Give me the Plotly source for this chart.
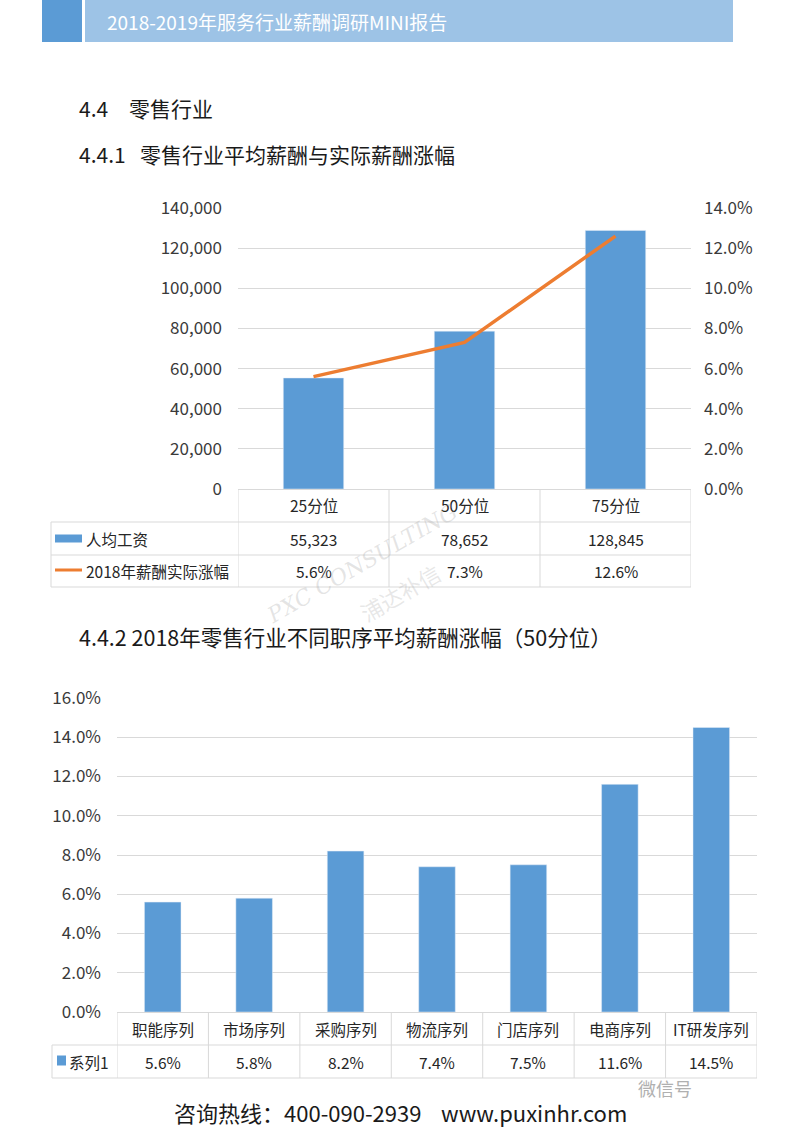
import plotly.graph_objects as go

# ---------------- data ----------------
header_title = "2018-2019年服务行业薪酬调研MINI报告"
pct_categories = ["25分位", "50分位", "75分位"]
avg_salary = [55323, 78652, 128845]
salary_rise = [0.056, 0.073, 0.126]
salary_name = "人均工资"
rise_name = "2018年薪酬实际涨幅"

seq_categories = ["职能序列", "市场序列", "采购序列", "物流序列", "门店序列", "电商序列", "IT研发序列"]
seq_rise = [0.056, 0.058, 0.082, 0.074, 0.075, 0.116, 0.145]
seq_name = "系列1"

# ---------------- styling helpers ----------------
W, H = 800, 1131
BLUE = "#5B9BD5"
ORANGE = "#ED7D31"
GRID = "#D9D9D9"
TXT = "#3a3a3a"
FONT = "Noto Sans CJK SC"


def px(x):
    return x / W


def py(y):
    return 1 - y / H


fig = go.Figure()

# chart 1 geometry (pixels)
c1_left, c1_right, c1_top, c1_bottom = 238, 691, 208, 489
c1_rows = [489, 522, 555, 587]
c1_legend_left = 51
# chart 2 geometry
c2_left, c2_right, c2_top, c2_bottom = 117, 757, 698, 1012
c2_rows = [1012, 1045, 1078]
c2_legend_left = 52

# ---------------- traces ----------------
fig.add_trace(go.Bar(x=list(range(len(pct_categories))), y=avg_salary, name=salary_name,
                     marker_color=BLUE, width=0.4, xaxis="x", yaxis="y", showlegend=False))
fig.add_trace(go.Scatter(x=list(range(len(pct_categories))), y=salary_rise, name=rise_name,
                         mode="lines", line=dict(color=ORANGE, width=3.5),
                         xaxis="x", yaxis="y2", showlegend=False))
fig.add_trace(go.Bar(x=list(range(len(seq_categories))), y=seq_rise, name=seq_name,
                     marker_color=BLUE, width=0.4, xaxis="x2", yaxis="y3", showlegend=False))

tickfont = dict(family=FONT, size=17, color=TXT)

fig.update_layout(
    width=W, height=H, margin=dict(l=0, r=0, t=0, b=0, pad=0, autoexpand=False),
    paper_bgcolor="white", plot_bgcolor="white", showlegend=False,
    font=dict(family=FONT, color=TXT),
    xaxis=dict(domain=[px(c1_left), px(c1_right)], range=[-0.5, len(pct_categories) - 0.5],
               showticklabels=False, showgrid=False, zeroline=False, automargin=False,
               showline=True, linecolor=GRID, linewidth=1, anchor="y", fixedrange=True),
    yaxis=dict(domain=[py(c1_bottom), py(c1_top)], range=[0, 140000], dtick=20000,
               tickformat=",", tickfont=tickfont, showgrid=True, gridcolor=GRID, gridwidth=1,
               zeroline=False, showline=False, ticks="", ticklabelstandoff=15, anchor="x",
               automargin=False),
    yaxis2=dict(overlaying="y", side="right", anchor="x", range=[0, 0.14], dtick=0.02,
                tickformat=".1%", tickfont=tickfont, showgrid=False, zeroline=False,
                showline=False, ticks="", ticklabelstandoff=12, automargin=False),
    xaxis2=dict(domain=[px(c2_left), px(c2_right)], range=[-0.5, len(seq_categories) - 0.5],
                showticklabels=False, showgrid=False, zeroline=False, automargin=False,
                showline=True, linecolor=GRID, linewidth=1, anchor="y3"),
    yaxis3=dict(domain=[py(c2_bottom), py(c2_top)], range=[0, 0.16], dtick=0.02,
                tickformat=".1%", tickfont=tickfont, showgrid=True, gridcolor=GRID, gridwidth=1,
                zeroline=False, showline=False, ticks="", ticklabelstandoff=15, anchor="x2",
                automargin=False),
)

shapes = []
annotations = []

# ---------------- header bar ----------------
shapes.append(dict(type="rect", xref="paper", yref="paper", x0=px(42), x1=px(82), y0=py(42), y1=py(0),
                   fillcolor="#5B9BD5", line=dict(width=0), layer="below"))
shapes.append(dict(type="rect", xref="paper", yref="paper", x0=px(85), x1=px(733), y0=py(42), y1=py(0),
                   fillcolor="#9DC3E6", line=dict(width=0), layer="below"))
annotations.append(dict(text=header_title, xref="paper", yref="paper", x=px(105), y=py(21),
                        xanchor="left", yanchor="middle", showarrow=False,
                        font=dict(family=FONT, size=19, color="white")))

# ---------------- headings ----------------
head_font = dict(family=FONT, size=21, color="#1a1a1a")
for txt, x, y, sz in [("4.4", 77, 108, 21), ("零售行业", 127, 108, 21), ("4.4.1", 77, 154, 21),
                      ("零售行业平均薪酬与实际薪酬涨幅", 138, 154, 21),
                      ("4.4.2 2018年零售行业不同职序平均薪酬涨幅（50分位）", 77, 636, 21.5)]:
    annotations.append(dict(text=txt, xref="paper", yref="paper", x=px(x), y=py(y),
                            xanchor="left", yanchor="middle", showarrow=False,
                            font=dict(head_font, size=sz)))

cell_font = dict(family=FONT, size=15.5, color="#262626")
line_style = dict(color=GRID, width=1)

# ---------------- chart 1 data table ----------------
for i in range(len(pct_categories) + 1):
    shapes.append(dict(type="line", xref="x", yref="paper", x0=i - 0.5, x1=i - 0.5,
                       y0=py(c1_rows[0]), y1=py(c1_rows[-1]), line=line_style))
for r in c1_rows[1:]:
    shapes.append(dict(type="line", xref="paper", yref="paper", x0=px(c1_legend_left), x1=px(c1_right),
                       y0=py(r), y1=py(r), line=line_style))
shapes.append(dict(type="line", xref="paper", yref="paper", x0=px(c1_legend_left), x1=px(c1_legend_left),
                   y0=py(c1_rows[1]), y1=py(c1_rows[-1]), line=line_style))
row_c = [(c1_rows[k] + c1_rows[k + 1]) / 2 for k in range(3)]
for i, cat in enumerate(pct_categories):
    annotations.append(dict(text=cat, xref="x", yref="paper", x=i, y=py(row_c[0]), showarrow=False,
                            xanchor="center", yanchor="middle", font=cell_font))
    annotations.append(dict(text=f"{avg_salary[i]:,}", xref="x", yref="paper", x=i, y=py(row_c[1]),
                            showarrow=False, xanchor="center", yanchor="middle", font=cell_font))
    annotations.append(dict(text=f"{salary_rise[i]:.1%}", xref="x", yref="paper", x=i, y=py(row_c[2]),
                            showarrow=False, xanchor="center", yanchor="middle", font=cell_font))
# legend keys
shapes.append(dict(type="rect", xref="paper", yref="paper", x0=px(55), x1=px(82),
                   y0=py(row_c[1] + 4), y1=py(row_c[1] - 4), fillcolor=BLUE, line=dict(width=0)))
shapes.append(dict(type="line", xref="paper", yref="paper", x0=px(55), x1=px(82),
                   y0=py(row_c[2] - 1), y1=py(row_c[2] - 1), line=dict(color=ORANGE, width=3)))
annotations.append(dict(text=salary_name, xref="paper", yref="paper", x=px(84), y=py(row_c[1]),
                        showarrow=False, xanchor="left", yanchor="middle", font=cell_font))
annotations.append(dict(text=rise_name, xref="paper", yref="paper", x=px(84), y=py(row_c[2]),
                        showarrow=False, xanchor="left", yanchor="middle", font=cell_font))

# ---------------- chart 2 data table ----------------
for i in range(len(seq_categories) + 1):
    shapes.append(dict(type="line", xref="x2", yref="paper", x0=i - 0.5, x1=i - 0.5,
                       y0=py(c2_rows[0]), y1=py(c2_rows[-1]), line=line_style))
for r in c2_rows[1:]:
    shapes.append(dict(type="line", xref="paper", yref="paper", x0=px(c2_legend_left), x1=px(c2_right),
                       y0=py(r), y1=py(r), line=line_style))
shapes.append(dict(type="line", xref="paper", yref="paper", x0=px(c2_legend_left), x1=px(c2_legend_left),
                   y0=py(c2_rows[1]), y1=py(c2_rows[-1]), line=line_style))
row2_c = [(c2_rows[k] + c2_rows[k + 1]) / 2 for k in range(2)]
for i, cat in enumerate(seq_categories):
    annotations.append(dict(text=cat, xref="x2", yref="paper", x=i, y=py(row2_c[0]), showarrow=False,
                            xanchor="center", yanchor="middle", font=cell_font))
    annotations.append(dict(text=f"{seq_rise[i]:.1%}", xref="x2", yref="paper", x=i, y=py(row2_c[1]),
                            showarrow=False, xanchor="center", yanchor="middle", font=cell_font))
shapes.append(dict(type="rect", xref="paper", yref="paper", x0=px(57), x1=px(66),
                   y0=py(row2_c[1] + 4), y1=py(row2_c[1] - 6), fillcolor=BLUE, line=dict(width=0)))
annotations.append(dict(text=seq_name, xref="paper", yref="paper", x=px(67), y=py(row2_c[1]),
                        showarrow=False, xanchor="left", yanchor="middle", font=cell_font))

# ---------------- watermark ----------------
annotations.append(dict(text="<i>PXC CONSULTING</i>", xref="paper", yref="paper", x=px(362), y=py(563),
                        showarrow=False, textangle=-30, font=dict(family="DejaVu Serif", size=22,
                                                                 color="rgba(160,160,160,0.28)")))
annotations.append(dict(text="浦达补信", xref="paper", yref="paper", x=px(400), y=py(592),
                        showarrow=False, textangle=-30, font=dict(family=FONT, size=22,
                                                                 color="rgba(160,160,160,0.25)")))

# ---------------- footer ----------------
annotations.append(dict(text="咨询热线：400-090-2939    www.puxinhr.com", xref="paper", yref="paper",
                        x=px(172), y=py(1112), xanchor="left", yanchor="middle", showarrow=False,
                        font=dict(family=FONT, size=22, color="#1a1a1a")))
annotations.append(dict(text="微信号", xref="paper", yref="paper", x=px(636), y=py(1088),
                        xanchor="left", yanchor="middle", showarrow=False,
                        font=dict(family=FONT, size=18, color="#b0b0b0")))

fig.update_layout(shapes=shapes, annotations=annotations)
fig.write_html("out.html", config={"displayModeBar": False},
               post_script="document.body.style.margin='0';document.body.style.overflow='hidden';")
